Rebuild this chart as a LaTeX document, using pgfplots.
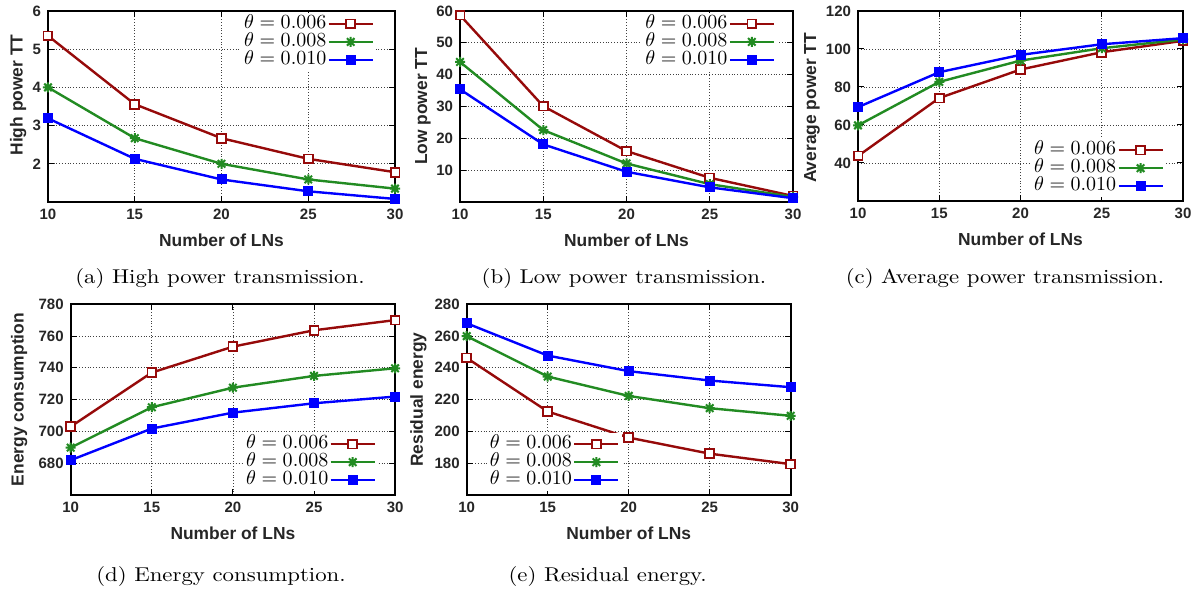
\documentclass[border=0pt]{standalone}
\usepackage{pgfplots}
\pgfplotsset{compat=1.18}
\usepackage{fontspec}
\newfontfamily\hv{Liberation Sans}

\definecolor{gpred}{RGB}{150,10,10}
\definecolor{gpgreen}{RGB}{34,139,34}
\definecolor{gpblue}{RGB}{0,0,255}

% gnuplot point type 3: plus and cross together
\pgfdeclareplotmark{gpstar}{%
  \pgfpathmoveto{\pgfqpoint{-\pgfplotmarksize}{0pt}}\pgfpathlineto{\pgfqpoint{\pgfplotmarksize}{0pt}}%
  \pgfpathmoveto{\pgfqpoint{0pt}{-\pgfplotmarksize}}\pgfpathlineto{\pgfqpoint{0pt}{\pgfplotmarksize}}%
  \pgfpathmoveto{\pgfqpoint{-.75\pgfplotmarksize}{-.75\pgfplotmarksize}}\pgfpathlineto{\pgfqpoint{.75\pgfplotmarksize}{.75\pgfplotmarksize}}%
  \pgfpathmoveto{\pgfqpoint{-.75\pgfplotmarksize}{.75\pgfplotmarksize}}\pgfpathlineto{\pgfqpoint{.75\pgfplotmarksize}{-.75\pgfplotmarksize}}%
  \pgfusepathqstroke}

% 1 px of the reference = 0.5pt
\pgfplotsset{
  lnbase/.style={
    scale only axis,
    xmin=10, xmax=30, xtick={10,15,20,25,30},
    grid=major, grid style={densely dotted, black!75, line width=0.4pt},
    axis line style={line width=0.8pt},
    tick align=inside, major tick length=3pt,
    tick style={black, line width=0.5pt},
    /pgf/number format/assume math mode=true,
    tick label style={font=\hv\bfseries\fontsize{7.5}{9}\selectfont, black!85},
    label style={font=\hv\bfseries\fontsize{8.7}{10}\selectfont, black!85},
    xlabel={Number of LNs},
    xlabel style={at={(axis description cs:0.5,-0.2)}, anchor=center},
    legend style={draw=none, fill=white, inner sep=1pt, outer sep=0pt,
      font=\fontsize{9.6}{10}\selectfont,
      nodes={inner sep=0.6pt, text height=6.2pt, text depth=1.6pt},
      /tikz/every even column/.append style={column sep=4.5pt}},
    legend cell align=right,
    legend plot pos=right,
    legend image code/.code={\draw[##1, mark repeat=2, mark phase=2]
      plot coordinates {(0pt,0pt)(11pt,0pt)(22pt,0pt)};},
  },
  sred/.style={color=gpred, line width=1.2pt, mark=square*, mark size=2.2pt,
    mark options={solid, line width=0.9pt, fill=white, draw=gpred}},
  sgreen/.style={color=gpgreen, line width=1.2pt, mark=gpstar, mark size=2.5pt,
    mark options={solid, line width=1pt}},
  sblue/.style={color=gpblue, line width=1.2pt, mark=square*, mark size=1.9pt,
    mark options={solid, fill=gpblue}},
}

\begin{document}
\begin{tikzpicture}
\path[use as bounding box] (0,0) rectangle (598.5pt,-294pt);

% (a) High power TT
\begin{axis}[lnbase, at={(24pt,-101pt)}, anchor=south west,
  width=173.5pt, height=95.5pt,
  ymin=1, ymax=6, ytick={2,3,4,5,6},
  ylabel={High power TT},
  ylabel style={at={(axis description cs:-0.086,0.56)}, anchor=center},
  legend style={at={(0.945,0.99)}, anchor=north east}]
\addplot[sred] coordinates {(10,5.35)(15,3.56)(20,2.67)(25,2.13)(30,1.78)};
\addplot[sgreen] coordinates {(10,4.00)(15,2.67)(20,2.00)(25,1.59)(30,1.35)};
\addplot[sblue] coordinates {(10,3.19)(15,2.13)(20,1.59)(25,1.28)(30,1.08)};
\legend{$\theta=0.006$, $\theta=0.008$, $\theta=0.010$}
\end{axis}

% (b) Low power TT
\begin{axis}[lnbase, at={(230pt,-101pt)}, anchor=south west,
  width=166.5pt, height=95.5pt,
  ymin=0, ymax=60, ytick={10,20,30,40,50,60},
  ylabel={Low power TT},
  ylabel style={at={(axis description cs:-0.111,0.5)}, anchor=center},
  legend style={at={(0.952,0.99)}, anchor=north east}]
\addplot[sred] coordinates {(10,58.7)(15,30.1)(20,16.0)(25,7.6)(30,1.9)};
\addplot[sgreen] coordinates {(10,44.0)(15,22.6)(20,12.1)(25,5.6)(30,1.6)};
\addplot[sblue] coordinates {(10,35.4)(15,18.1)(20,9.5)(25,4.6)(30,1.2)};
\legend{$\theta=0.006$, $\theta=0.008$, $\theta=0.010$}
\end{axis}

% (c) Average power TT
\begin{axis}[lnbase, at={(429pt,-100.5pt)}, anchor=south west,
  width=162.5pt, height=95pt,
  ymin=20, ymax=120, ytick={40,60,80,100,120},
  ylabel={Average power TT},
  ylabel style={at={(axis description cs:-0.142,0.49)}, anchor=center},
  legend style={at={(0.947,0.02)}, anchor=south east}]
\addplot[sred] coordinates {(10,43.7)(15,74.2)(20,89.2)(25,98.3)(30,104.3)};
\addplot[sgreen] coordinates {(10,59.8)(15,82.7)(20,93.9)(25,100.4)(30,105.0)};
\addplot[sblue] coordinates {(10,69.4)(15,87.8)(20,96.9)(25,102.5)(30,105.7)};
\legend{$\theta=0.006$, $\theta=0.008$, $\theta=0.010$}
\end{axis}

% (d) Energy consumption
\begin{axis}[lnbase, at={(35.35pt,-247.5pt)}, anchor=south west,
  width=162.2pt, height=95.4pt,
  ymin=660, ymax=780, ytick={680,700,720,740,760,780},
  ylabel={Energy consumption},
  ylabel style={at={(axis description cs:-0.159,0.5)}, anchor=center},
  legend style={at={(0.947,0.02)}, anchor=south east}]
\addplot[sred] coordinates {(10,703.0)(15,737.0)(20,753.3)(25,763.6)(30,770.0)};
\addplot[sgreen] coordinates {(10,689.8)(15,715.2)(20,727.5)(25,734.9)(30,739.7)};
\addplot[sblue] coordinates {(10,681.9)(15,701.8)(20,711.8)(25,717.7)(30,721.9)};
\legend{$\theta=0.006$, $\theta=0.008$, $\theta=0.010$}
\end{axis}

% (e) Residual energy
\begin{axis}[lnbase, at={(233.35pt,-247.5pt)}, anchor=south west,
  width=162pt, height=95.4pt,
  ymin=160, ymax=280, ytick={180,200,220,240,260,280},
  ylabel={Residual energy},
  ylabel style={at={(axis description cs:-0.149,0.5)}, anchor=center},
  legend style={at={(0.478,0.02)}, anchor=south east}]
\addplot[sred] coordinates {(10,246.2)(15,212.5)(20,196.1)(25,186.0)(30,179.4)};
\addplot[sgreen] coordinates {(10,259.9)(15,234.5)(20,222.3)(25,214.6)(30,209.8)};
\addplot[sblue] coordinates {(10,268.0)(15,247.7)(20,237.9)(25,232.0)(30,227.8)};
\legend{$\theta=0.006$, $\theta=0.008$, $\theta=0.010$}
\end{axis}

% sub-captions (the reference sets them a little wide)
\begin{scope}[every node/.style={anchor=base, inner sep=0pt, xscale=1.14,
    font=\fontsize{10}{12}\selectfont}]
\node at (110pt,-141.85pt) {(a) High power transmission.};
\node at (312pt,-141.85pt) {(b) Low power transmission.};
\node at (502.5pt,-141.85pt) {(c) Average power transmission.};
\node at (110.5pt,-290.85pt) {(d) Energy consumption.};
\node at (303.8pt,-290.85pt) {(e) Residual energy.};
\end{scope}
\end{tikzpicture}
\end{document}
